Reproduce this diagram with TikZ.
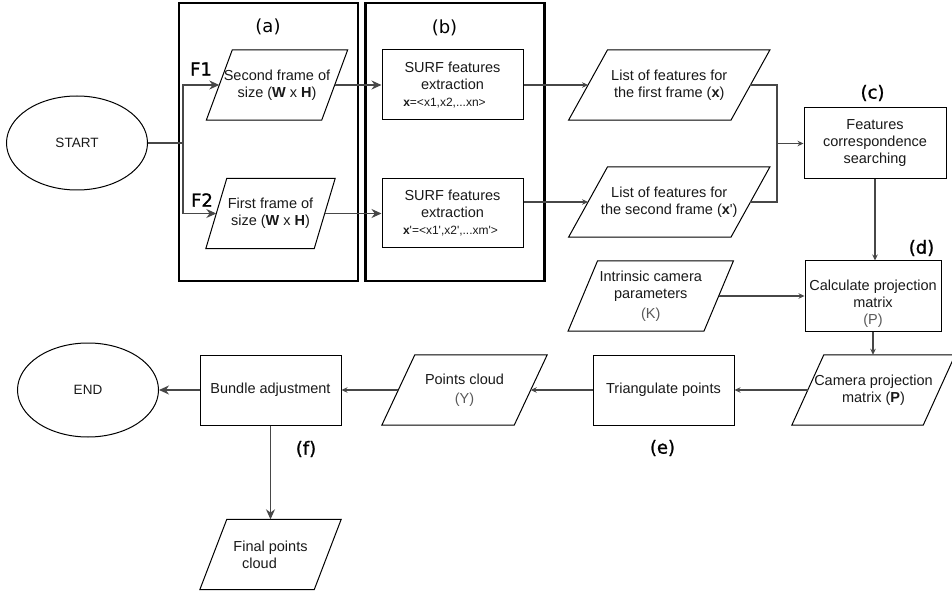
\documentclass[tikz,border=0pt]{standalone}
\usepackage{fontspec}
\setmainfont{Liberation Sans}
\newfontfamily\lblfont{DejaVu Sans}
\newfontfamily\lblfontb{DejaVu Sans}[FakeBold=1.2]
\usetikzlibrary{calc,arrows.meta,shapes.geometric}
\newcommand\paral[2]{\draw[shp] ($(#1.north west)+(#2/2,0)$) -- ($(#1.north east)+(#2/2,0)$) -- ($(#1.south east)-(#2/2,0)$) -- ($(#1.south west)-(#2/2,0)$) -- cycle;}
\begin{document}
\begin{tikzpicture}[x=1pt,y=-1pt,
  txt/.style={font=\fontsize{14.5}{17}\selectfont, align=center, text=black!90},
  shp/.style={draw=black, line width=1pt},
  box/.style={txt, shp, minimum width=#1, minimum height=70, inner sep=0},
  box/.default=141,
  pnode/.style={txt, minimum width=#1, minimum height=70, inner sep=0},
  oval/.style={txt, shp, ellipse, minimum width=141, minimum height=94, inner sep=0, font=\fontsize{13.5}{16}\selectfont},
  frame/.style={draw=black, line width=2.5pt, minimum width=179, minimum height=278, inner sep=0},
  lbl/.style={font=\lblfontb\fontsize{18}{20}\selectfont, inner sep=0},
  lblr/.style={font=\lblfont\fontsize{18}{20}\selectfont, inner sep=0},
  conn/.style={draw=black!72, line width=1.1pt},
  arr/.style={conn, -{Stealth[length=6pt,width=5.5pt]}},
  arrbig/.style={conn, -{Stealth[length=10pt,width=9pt]}}
]
\useasboundingbox (0,0) rectangle (952,593);

% frames
\node[frame] (fa) at (268.5,142) {};
\node[frame] (fb) at (455,142) {};
\node[lblr] (la) at (268,27) {(a)};
\node[lblr] (lb) at (444.5,28) {(b)};
\node[lbl] (lf1) at (201,69) {F1};
\node[lbl] (lf2) at (202,200) {F2};
\node[lbl] (lc) at (872.5,93) {(c)};
\node[lbl] (ld) at (921.5,248) {(d)};
\node[lbl] (le) at (662.5,448) {(e)};
\node[lbl] (lff) at (306,449) {(f)};

% start / end
\node[oval] (start) at (77,143) {START};
\node[oval] (end) at (88,390) {END};

% parallelograms
\node[pnode=115] (f1) at (277,85) {Second frame of\\size (\textbf{W} x \textbf{H})};
\paral{f1}{26}
\node[pnode=108] (f2) at (270.5,213.5) {First frame of\\size (\textbf{W} x \textbf{H})};
\paral{f2}{21}
\node[pnode=162] (list1) at (669.25,85) {List of features for\\the first frame (\textbf{x})};
\paral{list1}{39}
\node[pnode=162] (list2) at (669.25,202) {List of features for\\the second frame (\textbf{x}\textquotesingle)};
\paral{list2}{39}
\node[pnode=135.5] (intr) at (650.75,296) {Intrinsic camera\\parameters\\[3pt]{\color{black!65}(K)}};
\paral{intr}{29.5}
\node[pnode=131] (cam) at (873.5,390) {Camera projection\\matrix (\textbf{P})};
\paral{cam}{32}
\node[pnode=132] (pts) at (464.5,390) {Points cloud\\[2pt]{\color{black!65}(Y)}};
\paral{pts}{33}
\node[pnode=114] (fin) at (270.5,554.5) {Final points\\\hspace*{0pt}cloud\hspace*{22pt}};
\paral{fin}{27}

% boxes
\node[box] (surf1) at (452.5,85) {SURF features\\extraction\\{\fontsize{12}{14}\selectfont\textbf{x}=<x1,x2,...xn>\hspace*{16pt}}};
\node[box, minimum height=69] (surf2) at (452.5,213.5) {SURF features\\extraction\\{\fontsize{12}{14}\selectfont\textbf{x}\textquotesingle=<x1\textquotesingle,x2\textquotesingle,...xm\textquotesingle>\hspace*{4pt}}};
\node[box=142, minimum height=71] (feat) at (875,143.5) {Features\\correspondence\\searching};
\node[box=136] (calc) at (873,296) {\rule{0pt}{26pt}Calculate projection\\matrix\\{\color{black!65}(P)}};
\node[box] (tri) at (663.5,390) {Triangulate points};
\node[box] (bund) at (270.5,390) {Bundle adjustment};

% connectors
\coordinate (j) at (183,143);
\coordinate (m) at (777,143.5);
\draw[conn] (start.east) -- (j);
\draw[arrbig] (j) |- (f1.west);
\draw[arrbig] (j) |- (f2.west);
\draw[arrbig] (f1.east) -- (surf1.west);
\draw[arrbig] (f2.east) -- (surf2.west);
\draw[arr] (surf1.east) -- (list1.west);
\draw[arr] (surf2.east |- list2.west) -- (list2.west);
\draw[conn] (list1.east) -| (m);
\draw[conn] (list2.east) -| (m);
\draw[arr] (m) -- (feat.west);
\draw[arr] (feat.south) -- (feat.south |- calc.north);
\draw[arr] (intr.east) -- (calc.west);
\draw[arr] (calc.south) -- (calc.south |- cam.north);
\draw[arr] (cam.west) -- (tri.east);
\draw[arr] (tri.west) -- (pts.east);
\draw[arr] (pts.west) -- (bund.east);
\draw[arrbig] (bund.west) -- (end.east);
\draw[arrbig] (bund.south) -- (fin.north);
\end{tikzpicture}
\end{document}
